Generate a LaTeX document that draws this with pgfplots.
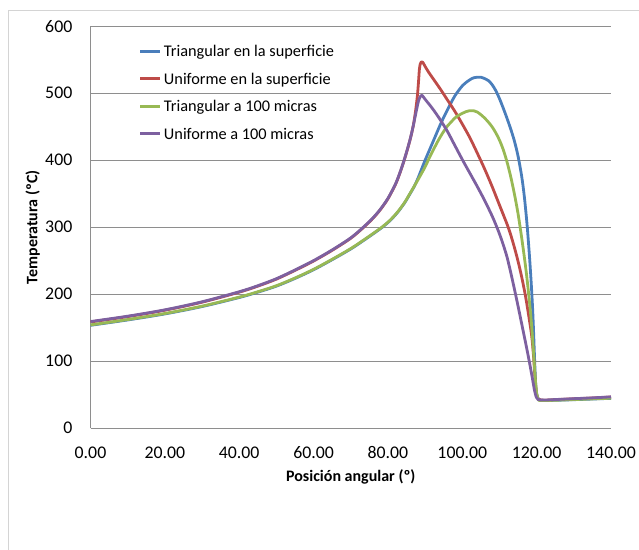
\documentclass[border=0pt]{standalone}
\usepackage{fontspec}
\setmainfont{Carlito}
\usepackage{pgfplots}
\pgfplotsset{compat=1.18}
\definecolor{cblue}{HTML}{4A7EBB}
\definecolor{cred}{HTML}{BE4B48}
\definecolor{cgreen}{HTML}{98B954}
\definecolor{cpurple}{HTML}{7D60A0}
\definecolor{gridc}{HTML}{8E8E8E}
\definecolor{framec}{HTML}{D4D4D4}
\begin{document}
\begin{tikzpicture}
\useasboundingbox (0pt,0pt) rectangle (639pt,549pt);
\draw[framec, line width=1pt] (8pt,-5pt) -- (8pt,538.5pt) -- (645pt,538.5pt);
\begin{axis}[
  at={(90.5pt,121pt)}, anchor=south west,
  scale only axis, width=520.5pt, height=401.7pt,
  xmin=0, xmax=140, ymin=0, ymax=600,
  xtick={0,20,...,140}, ytick={0,100,...,600},
  axis x line*=bottom, axis y line*=left,
  axis line style={gridc, line width=1pt},
  ymajorgrids, major grid style={gridc, line width=1pt},
  major tick length=0pt,
  clip=false,
  /pgf/number format/assume math mode=true,
  ticklabel style={font=\fontsize{17.8}{20}\selectfont, inner sep=0pt},
  xticklabel style={anchor=base, yshift=-30.7pt, /pgf/number format/.cd, fixed, fixed zerofill, precision=2},
  yticklabel style={anchor=east, xshift=-18pt},
  xlabel={Posición angular (º)},
  ylabel={Temperatura (ºC)},
  x label style={at={(axis description cs:0.5,-0.1327)}, anchor=base, font=\bfseries\fontsize{16}{19}\selectfont},
  y label style={at={(axis description cs:-0.1022,0.5)}, rotate=0, anchor=base, font=\bfseries\fontsize{16}{19}\selectfont},
  legend cell align=left,
  legend style={at={(axis description cs:0.0922,0.9517)}, anchor=north west, draw=none, fill=none,
    inner sep=0pt, row sep=16.4pt, column sep=3pt, font=\fontsize{16.3}{19}\selectfont,
    nodes={inner sep=0pt, text height=11pt, text depth=0pt}},
  legend image code/.code={\draw[#1, line width=2.8pt] (0pt,0pt) -- (19.5pt,0pt);},
  every axis plot/.append style={line width=2.8pt, line join=round, no markers, smooth, tension=0.5},
]
\addplot[cblue] coordinates {
(0,153.4)(10,161.4)(20,170.4)(30,181.4)(40,194.9)(45,202.9)(50,211.9)(55,223.4)(60,236.4)
(65,251.4)(70,267.4)(73.4,279.9)(76,289.9)(78.5,299.9)(80.5,309.4)(82.5,321.4)(84.5,336.4)
(86,350.4)(87,360)(88,372)(89,386)(90,400)(91,413)(92,426)(93,439)(94,452)(95,464)(96,475)
(97,486)(98,496)(99,504)(100,511)(101,516)(102,520)(103,523)(104,524)(105,524)(106,522)
(107,519)(108,513)(109,504)(110,492)(111,478)(112,463)(113,447)(114,429)(115,406)(116,375)
(116.7,345)(117.4,305)(118,262)(118.5,220)(118.9,180)(119.2,140)(119.5,95)(119.8,60)
(120.2,46)(120.7,42)(122,41.2)(125,41.4)(130,42.3)(135,43.3)(140,44.3)};
\addlegendentry{Triangular en la superficie}
\addplot[cred] coordinates {
(0,158.4)(10,166.4)(20,175.9)(30,187.9)(40,202.9)(45,211.9)(50,222.4)(55,235.4)(60,249.4)
(65,265.4)(70,283.4)(73.4,299.4)(76,313.4)(78,326.4)(80,342.4)(82,363.4)(83,377.4)(84,393.4)
(85,411.4)(86,431.4)(86.8,451)(87.4,472)(87.9,495)(88.2,515)(88.45,535)(88.7,544)(89,547)
(89.4,546)(90,540)(91,531)(92,523)(94,507)(96,490)(98,473)(100,454)(102,434)(104,411)
(106,387)(108,361)(110,333)(112,305)(113,289)(114,270)(115,249)(116,225)(117,197)(118,163)
(118.7,136)(119.2,105)(119.6,72)(120,50)(120.5,43)(122,41.5)(125,42.3)(130,43.6)(135,44.8)(140,46.3)};
\addlegendentry{Uniforme en la superficie}
\addplot[cgreen] coordinates {
(0,154)(10,162)(20,171)(30,182)(40,195.5)(45,203.5)(50,212.5)(55,224)(60,237)(65,252)
(70,268)(73.4,280.5)(76,290.5)(78.5,300.5)(80.5,310)(82.5,322)(84.5,337)(86,351)(88,370)
(90,390)(91,402)(92,413)(93,424)(94,434)(95,443)(96,451)(97,457)(98,463)(99,467)(100,470)
(101,472.5)(102,474)(103,474)(104,472)(105,468)(106,463)(107,457)(108,450)(109,441)(110,430)
(111,416)(112,398)(113,376)(114,350)(115,320)(116,283)(117,242)(117.8,203)(118.5,163)
(119.1,118)(119.6,76)(120,52)(120.4,43)(121,41)(125,41.5)(130,42.5)(135,43.5)(140,44.5)};
\addlegendentry{Triangular a 100 micras}
\addplot[cpurple] coordinates {
(0,159)(10,167)(20,176.5)(30,188.5)(40,203.5)(45,212.5)(50,223)(55,236)(60,250)(65,266)
(70,284)(73.4,300)(76,314)(78,327)(80,343)(82,364)(83,378)(84,394)(85,412)(86,432)(86.8,451)
(87.5,470)(88.2,488)(88.7,495)(89.1,497)(89.6,494)(90,491)(92,477)(94,461)(96,443)
(98,422)(100,401)(102,381)(104,361)(106,340)(108,317)(109,304)(110,290)(111,274)(112,256)
(113,233)(114,208)(115,182)(116,155)(117,128)(118,100)(118.8,76)(119.4,57)(119.9,46)
(120.4,42.5)(122,41.8)(125,42.5)(130,43.8)(135,45)(140,46.5)};
\addlegendentry{Uniforme a 100 micras}
\end{axis}
\end{tikzpicture}
\end{document}
